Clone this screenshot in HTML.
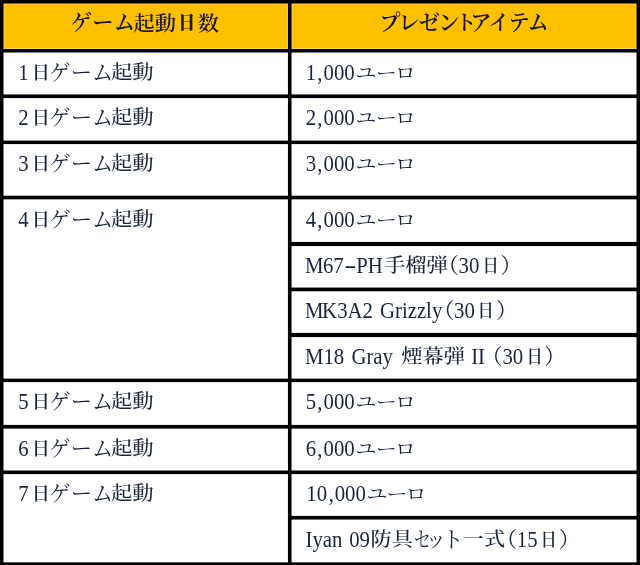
<!DOCTYPE html>
<html lang="ja">
<head>
<meta charset="utf-8">
<title>ゲーム起動日数 プレゼントアイテム</title>
<style>
html,body{margin:0;padding:0;background:#fff;}
body{width:640px;height:565px;overflow:hidden;position:relative;font-family:"Liberation Serif","Noto Serif CJK SC",serif;}
#t{position:absolute;left:0;top:0;width:640px;height:565px;background:#fff;overflow:hidden;}
#g{position:absolute;left:0;top:0;width:640px;height:565px;display:block;}
.hd{position:absolute;left:0;top:0;width:640px;height:51px;background:#ffc000;}
.x{position:absolute;left:0;white-space:nowrap;font-size:21.3px;line-height:30px;height:30px;color:#18233f;font-weight:500;}
.x.h{color:#15181f;font-weight:600;}
.x span{display:inline-block;vertical-align:baseline;}
.x .c{transform:translateY(-1.23px) scaleY(0.9);transform-origin:0 22.19px;}
.x.h .c{transform:translateY(0.9px) scaleY(0.946);}
.x .l{font-size:20.8px;transform:scaleY(1.09);transform-origin:0 22.02px;}
.x .k{font-feature-settings:"palt";}
</style>
</head>
<body>
<div id="t">
<div class="hd"></div>
<svg id="g" width="640" height="565" viewBox="0 0 640 565" aria-hidden="true"><g fill="none" stroke="#ffd652" stroke-width="1"><rect x="4" y="4" width="283.45" height="44.50"/><rect x="292.05" y="4" width="343.95" height="44.50"/></g><g fill="#000"><rect x="0" y="0.00" width="640" height="3.50"/><rect x="0" y="49.00" width="640" height="3.50"/><rect x="0" y="94.45" width="640" height="3.63"/><rect x="0" y="140.60" width="640" height="3.48"/><rect x="0" y="195.70" width="640" height="3.65"/><rect x="289" y="241.93" width="351" height="4.15"/><rect x="289" y="287.55" width="351" height="3.70"/><rect x="289" y="332.92" width="351" height="4.18"/><rect x="0" y="378.60" width="640" height="3.50"/><rect x="0" y="424.92" width="640" height="3.68"/><rect x="0" y="470.50" width="640" height="3.60"/><rect x="289" y="515.92" width="351" height="3.63"/><rect x="0" y="562.35" width="640" height="2.65"/><rect x="0.00" y="0" width="3.50" height="565"/><rect x="287.95" y="0" width="3.60" height="565"/><rect x="636.50" y="0" width="3.50" height="565"/></g></svg>
<div class="x h" style="top:7.61px"><span style="margin-left:70.86px;width:62.64px;letter-spacing:0.19px">ゲーム</span><span class="c" style="width:42.93px">起動</span><span style="width:21.33px;font-weight:900;transform:translateY(-1.26px) scale(0.787,0.85);transform-origin:10.82px 22.19px">日</span><span class="c">数</span></div>
<div class="x h" style="top:7.61px"><span class="k" style="margin-left:380.18px;width:90.07px;letter-spacing:-0.09px">プレゼント</span><span style="letter-spacing:-1.20px">アイテム</span></div>
<div class="x" style="top:58.01px"><span class="l" style="margin-left:18.30px;width:11.25px">1</span><span style="width:19.81px;font-weight:600;transform:translateY(-0.86px) scale(0.850,0.85);transform-origin:11.00px 22.19px">日</span><span style="width:61.63px;letter-spacing:0.03px;font-weight:400">ゲーム</span><span class="c">起動</span></div>
<div class="x" style="top:103.01px"><span class="l" style="margin-left:18.30px;width:11.25px">2</span><span style="width:19.81px;font-weight:600;transform:translateY(-0.86px) scale(0.850,0.85);transform-origin:11.00px 22.19px">日</span><span style="width:61.63px;letter-spacing:0.03px;font-weight:400">ゲーム</span><span class="c">起動</span></div>
<div class="x" style="top:149.01px"><span class="l" style="margin-left:18.30px;width:11.25px">3</span><span style="width:19.81px;font-weight:600;transform:translateY(-0.86px) scale(0.850,0.85);transform-origin:11.00px 22.19px">日</span><span style="width:61.63px;letter-spacing:0.03px;font-weight:400">ゲーム</span><span class="c">起動</span></div>
<div class="x" style="top:204.91px"><span class="l" style="margin-left:18.30px;width:11.25px">4</span><span style="width:19.81px;font-weight:600;transform:translateY(-0.86px) scale(0.850,0.85);transform-origin:11.00px 22.19px">日</span><span style="width:61.63px;letter-spacing:0.03px;font-weight:400">ゲーム</span><span class="c">起動</span></div>
<div class="x" style="top:387.01px"><span class="l" style="margin-left:18.30px;width:11.25px">5</span><span style="width:19.81px;font-weight:600;transform:translateY(-0.86px) scale(0.850,0.85);transform-origin:11.00px 22.19px">日</span><span style="width:61.63px;letter-spacing:0.03px;font-weight:400">ゲーム</span><span class="c">起動</span></div>
<div class="x" style="top:433.91px"><span class="l" style="margin-left:18.30px;width:11.25px">6</span><span style="width:19.81px;font-weight:600;transform:translateY(-0.86px) scale(0.850,0.85);transform-origin:11.00px 22.19px">日</span><span style="width:61.63px;letter-spacing:0.03px;font-weight:400">ゲーム</span><span class="c">起動</span></div>
<div class="x" style="top:479.01px"><span class="l" style="margin-left:18.30px;width:11.25px">7</span><span style="width:19.81px;font-weight:600;transform:translateY(-0.86px) scale(0.850,0.85);transform-origin:11.00px 22.19px">日</span><span style="width:61.63px;letter-spacing:0.03px;font-weight:400">ゲーム</span><span class="c">起動</span></div>
<div class="x" style="top:58.01px"><span class="l" style="margin-left:305.70px;width:11.68px">1</span><span class="l" style="width:6.17px">,</span><span class="l" style="width:32.09px">000</span><span class="k" style="letter-spacing:-0.16px;transform:translateY(0px) scaleY(0.82);transform-origin:0 15.19px;font-weight:400">ユーロ</span></div>
<div class="x" style="top:103.01px"><span class="l" style="margin-left:305.70px;width:11.68px">2</span><span class="l" style="width:6.17px">,</span><span class="l" style="width:32.09px">000</span><span class="k" style="letter-spacing:-0.16px;transform:translateY(0px) scaleY(0.82);transform-origin:0 15.19px;font-weight:400">ユーロ</span></div>
<div class="x" style="top:149.01px"><span class="l" style="margin-left:305.70px;width:11.68px">3</span><span class="l" style="width:6.17px">,</span><span class="l" style="width:32.09px">000</span><span class="k" style="letter-spacing:-0.16px;transform:translateY(0px) scaleY(0.82);transform-origin:0 15.19px;font-weight:400">ユーロ</span></div>
<div class="x" style="top:204.91px"><span class="l" style="margin-left:305.70px;width:11.68px">4</span><span class="l" style="width:6.17px">,</span><span class="l" style="width:32.09px">000</span><span class="k" style="letter-spacing:-0.16px;transform:translateY(0px) scaleY(0.82);transform-origin:0 15.19px;font-weight:400">ユーロ</span></div>
<div class="x" style="top:251.11px"><span class="l" style="margin-left:304.79px;width:18.17px;transform:scale(0.999,1.09);transform-origin:9.41px 22.02px">M</span><span class="l" style="width:23.83px">67</span><span class="l" style="width:9.43px;transform:scale(1.760,1.09);transform-origin:3.50px 22.02px">-</span><span class="l" style="width:27.70px">PH</span><span class="c" style="width:53.58px">手榴弾</span><span style="width:21.16px;font-weight:400">（</span><span class="l" style="width:21.28px">30</span><span style="width:20.58px;font-weight:600;transform:translateY(-0.86px) scale(0.764,0.85);transform-origin:11.00px 22.19px">日</span><span style="font-weight:400">）</span></div>
<div class="x" style="top:296.01px"><span class="l" style="margin-left:304.79px;width:17.33px;transform:scale(0.999,1.09);transform-origin:9.41px 22.02px">M</span><span class="l" style="width:57.84px">K3A2 </span><span class="l" style="width:52.95px">Grizzly</span><span style="width:21.17px;font-weight:400">（</span><span class="l" style="width:21.27px">30</span><span style="width:20.58px;font-weight:600;transform:translateY(-0.86px) scale(0.764,0.85);transform-origin:11.00px 22.19px">日</span><span style="font-weight:400">）</span></div>
<div class="x" style="top:342.01px"><span class="l" style="margin-left:304.79px;width:18.67px;transform:scale(0.999,1.09);transform-origin:9.41px 22.02px">M</span><span class="l" style="width:27.98px">18 </span><span class="l" style="width:49.72px">Gray </span><span class="c" style="width:70.04px">煙幕弾 </span><span class="l" style="width:10.10px">II </span><span style="width:21.16px;font-weight:400">（</span><span class="l" style="width:21.28px">30</span><span style="width:20.58px;font-weight:600;transform:translateY(-0.86px) scale(0.764,0.85);transform-origin:11.00px 22.19px">日</span><span style="font-weight:400">）</span></div>
<div class="x" style="top:387.01px"><span class="l" style="margin-left:305.70px;width:11.68px">5</span><span class="l" style="width:6.17px">,</span><span class="l" style="width:32.09px">000</span><span class="k" style="letter-spacing:-0.16px;transform:translateY(0px) scaleY(0.82);transform-origin:0 15.19px;font-weight:400">ユーロ</span></div>
<div class="x" style="top:433.91px"><span class="l" style="margin-left:305.70px;width:11.68px">6</span><span class="l" style="width:6.17px">,</span><span class="l" style="width:32.09px">000</span><span class="k" style="letter-spacing:-0.16px;transform:translateY(0px) scaleY(0.82);transform-origin:0 15.19px;font-weight:400">ユーロ</span></div>
<div class="x" style="top:479.01px"><span class="l" style="margin-left:306.31px;width:22.37px">10</span><span class="l" style="width:6.07px">,</span><span class="l" style="width:31.79px">000</span><span class="k" style="letter-spacing:-0.31px;transform:translateY(0px) scaleY(0.82);transform-origin:0 15.19px;font-weight:400">ユーロ</span></div>
<div class="x" style="top:524.81px"><span class="l" style="margin-left:305.48px;width:43.72px">Iyan </span><span class="l" style="width:21.36px">09</span><span class="c" style="width:41.78px">防具</span><span style="width:12.45px;transform:scaleX(0.789);transform-origin:9.86px 50%;font-weight:400">セ</span><span style="width:17.59px;transform:scaleX(0.965);transform-origin:10.83px 50%;font-weight:400">ッ</span><span style="width:20.29px;font-weight:400">ト</span><span class="c" style="width:33.14px">一式</span><span style="width:21.10px;font-weight:400">（</span><span class="l" style="width:21.34px">15</span><span style="width:20.58px;font-weight:600;transform:translateY(-0.86px) scale(0.764,0.85);transform-origin:11.00px 22.19px">日</span><span style="font-weight:400">）</span></div>
</div>
</body>
</html>
